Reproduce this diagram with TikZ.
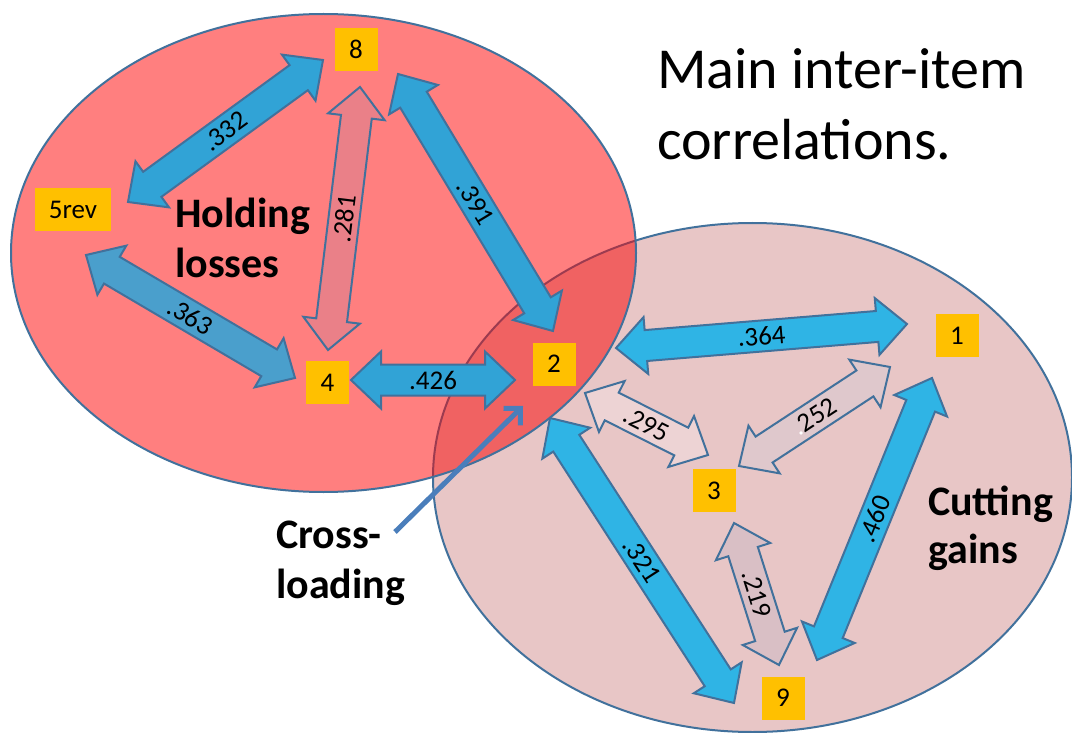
\documentclass[tikz,border=0pt]{standalone}
\usepackage{fontspec}
\setmainfont{Carlito}
\usetikzlibrary{calc,arrows.meta}
\definecolor{redfill}{HTML}{FF7F7F}
\definecolor{pinkfill}{HTML}{E8C6C6}
\definecolor{overfill}{HTML}{F06262}
\definecolor{edge}{HTML}{41719C}
\definecolor{edgeover}{HTML}{9C3B50}
\definecolor{ybox}{HTML}{FFC000}
\definecolor{blueL}{HTML}{31A3D6}
\definecolor{blueM}{HTML}{4A9FCC}
\definecolor{blueR}{HTML}{2FB4E5}
\definecolor{fillA}{HTML}{EA8088}
\definecolor{fillB}{HTML}{EDD3D4}
\definecolor{fillC}{HTML}{DFC8CC}
\definecolor{fillD}{HTML}{D9BFC5}
\definecolor{xload}{HTML}{4A7EBB}
\newcommand\arhl{30pt}
\newcommand\arhw{28.5pt}
\newcommand\arbw{15.5pt}
% #1 extra options, #2 start, #3 end, #4 fill colour, #5 label
\newcommand\corrarrow[5][]{%
  \draw[arrowline, fill=#4, #1] (#2)
    -- ($(#2)!\arhl!(#3)!\arhw!90:(#3)$)
    -- ($(#2)!\arhl!(#3)!\arbw!90:(#3)$)
    -- ($(#3)!\arhl!(#2)!\arbw!-90:(#2)$)
    -- ($(#3)!\arhl!(#2)!\arhw!-90:(#2)$)
    -- (#3)
    -- ($(#3)!\arhl!(#2)!\arhw!90:(#2)$)
    -- ($(#3)!\arhl!(#2)!\arbw!90:(#2)$)
    -- ($(#2)!\arhl!(#3)!\arbw!-90:(#3)$)
    -- ($(#2)!\arhl!(#3)!\arhw!-90:(#3)$)
    -- cycle;
  \path (#2) -- node[sloped, lbl] {#5} (#3);
}
\begin{document}
\begin{tikzpicture}[x=1pt, y=-1pt,
  arrowline/.style={draw=edge, line width=2pt, line join=miter},
  lbl/.style={inner sep=0pt, font=\fontsize{27}{32}\selectfont},
  item/.style={fill=ybox, inner sep=0pt, minimum width=43pt, minimum height=43pt,
               font=\fontsize{27}{32}\selectfont},
  grp/.style={anchor=base west, inner sep=0pt, font=\fontsize{42}{50}\selectfont\bfseries},
  ttl/.style={anchor=base west, inner sep=0pt, font=\fontsize{58}{70}\selectfont},
  ell/.style={line width=2pt}]
\useasboundingbox (0,0) rectangle (1072,733);
\fill[white] (0,0) rectangle (1072,733);

% groups
\coordinate (cL) at (323.5,253);
\coordinate (cR) at (752.5,477.5);
\fill[pinkfill] (cR) ellipse [x radius=319.5pt, y radius=254.5pt];
\draw[edge, ell] (cR) ellipse [x radius=319.5pt, y radius=254.5pt];
\fill[redfill] (cL) ellipse [x radius=312.5pt, y radius=239pt];
\begin{scope}
  \clip (cL) ellipse [x radius=312.5pt, y radius=239pt];
  \fill[overfill] (cR) ellipse [x radius=319.5pt, y radius=254.5pt];
  \draw[edgeover, ell] (cR) ellipse [x radius=319.5pt, y radius=254.5pt];
\end{scope}
\draw[edge, ell] (cL) ellipse [x radius=312.5pt, y radius=239pt];

% arrow ends
\coordinate (p332a) at (128,202);  \coordinate (p332b) at (323,60);
\coordinate (p281a) at (328,350);  \coordinate (p281b) at (360,87);
\coordinate (p391a) at (398,74);   \coordinate (p391b) at (553,331);
\coordinate (p363a) at (86,255);   \coordinate (p363b) at (295,378);
\coordinate (p426a) at (351,380);  \coordinate (p426b) at (515,380);
\coordinate (p364a) at (616,348);  \coordinate (p364b) at (907,324);
\coordinate (p295a) at (585,393);  \coordinate (p295b) at (708,455);
\coordinate (p252a) at (739,466);  \coordinate (p252b) at (890,367);
\coordinate (p460a) at (817,660);  \coordinate (p460b) at (932,378);
\coordinate (p321a) at (550,418);  \coordinate (p321b) at (734,703);
\coordinate (p219a) at (734,523);  \coordinate (p219b) at (779,665);

\corrarrow{p332a}{p332b}{blueL}{.332}
\corrarrow{p281a}{p281b}{fillA}{.281}
\corrarrow{p391a}{p391b}{blueL}{.391}
\corrarrow{p363a}{p363b}{blueM}{.363}
\corrarrow{p426a}{p426b}{blueL}{.426}
\corrarrow{p364a}{p364b}{blueR}{.364}
\corrarrow{p295a}{p295b}{fillB}{.295}
\corrarrow{p252a}{p252b}{fillC}{{\color{white}.}252}
\corrarrow{p460a}{p460b}{blueR}{.460}
\corrarrow{p321a}{p321b}{blueR}{.321}
\corrarrow{p219a}{p219b}{fillD}{.219}

% items
\node[item] (n8) at (356,49.5) {8};
\node[item, minimum width=76pt] (n5) at (73,210) {5rev};
\node[item] (n4) at (327.5,382.5) {4};
\node[item] (n2) at (554,364) {2};
\node[item] (n1) at (957,335.5) {1};
\node[item] (n3) at (714,490.5) {3};
\node[item] (n9) at (783,698) {9};

% texts
\node[ttl] (t1) at (657,89) {Main inter-item};
\node[ttl] (t2) at (657,160) {correlations.};
\node[grp] (h1) at (175,227) {Holding};
\node[grp] (h2) at (175,277) {losses};
\node[grp] (g1) at (928,515) {Cutting};
\node[grp] (g2) at (928,563) {gains};
\node[grp] (x1) at (276,548) {Cross-};
\node[grp] (x2) at (276,598) {loading};

% cross-loading pointer
\coordinate (xs) at (395,532);
\coordinate (xe) at (523,406);
\draw[xload, line width=5pt, -{Straight Barb[length=12pt, width=24pt]}] (xs) -- (xe);
\end{tikzpicture}
\end{document}
